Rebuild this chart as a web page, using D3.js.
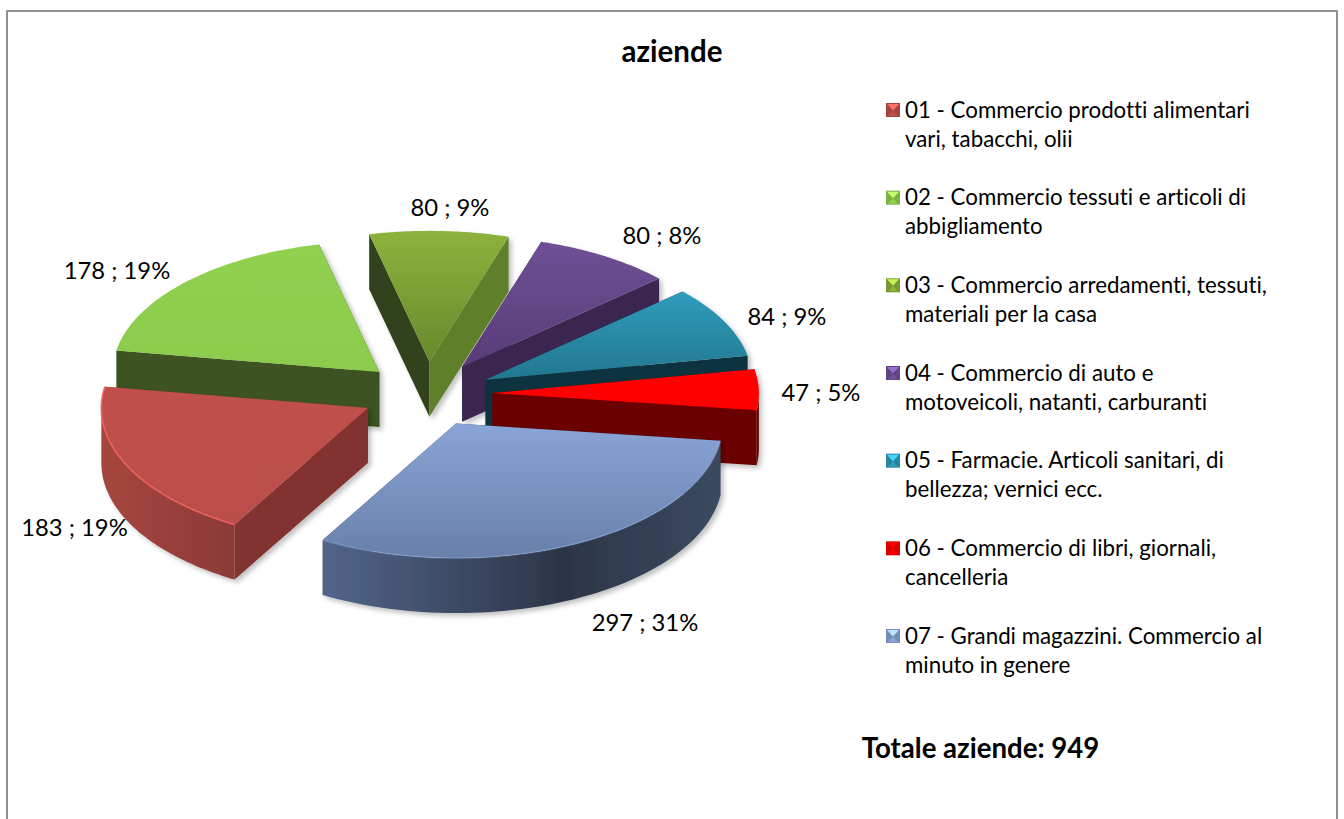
<!DOCTYPE html>
<html><head><meta charset="utf-8">
<script src="https://cdn.jsdelivr.net/npm/d3@7"></script>
<style>html,body{margin:0;padding:0;background:#fff}svg{display:block}text{font-family:Lato,"Open Sans",sans-serif;fill:#000;font-variant-ligatures:none}</style>
</head><body><svg id="c" width="1344" height="819"></svg>
<script>
const titleText = "aziende";
const totalText = "Totale aziende: 949";
const codes = ["01","02","03","04","05","06","07"];
const values = [183,178,80,80,84,47,297];
const dataLabels = ["183 ; 19%","178 ; 19%","80 ; 9%","80 ; 8%","84 ; 9%","47 ; 5%","297 ; 31%"];
const legendLines = [
 ["01 - Commercio prodotti alimentari","vari, tabacchi, olii"],
 ["02 - Commercio tessuti e articoli di","abbigliamento"],
 ["03 - Commercio arredamenti, tessuti,","materiali per la casa"],
 ["04 - Commercio di auto e","motoveicoli, natanti, carburanti"],
 ["05 - Farmacie. Articoli sanitari, di","bellezza; vernici ecc."],
 ["06 - Commercio di libri, giornali,","cancelleria"],
 ["07 - Grandi magazzini. Commercio al","minuto in genere"]];
const topColors = [["#c0504d","#bb4e4a"],["#92d050","#8ccb4c"],["#8db23d","#68892c"],["#6f5096","#583c78"],["#2f9cbc","#237790"],["#ff0000","#ff0000"],["#89a4d6","#6880aa"]];
const startWallColors = ["#833332","#3c5220","#33431a","#3a2850","#10333f","#6b0000","#2e384c"];
const endWallColors = ["#833332","#3c5220","#5f7f2c","#3a2850","#10333f","#6b0000","#2e384c"];
const curveStops = [["#a6463f","#8c3a38"],["#3c5220","#3c5220"],["#000","#000"],["#000","#000"],["#000","#000"],["#6b0000","#6b0000"],["#2f3a4f","#50637f"]];
const rimOpacity = [0.9,0,0,0,0,0,0.3];
const drawOrder = [2,3,4,5,1,0,6];
const labelPos = [[74.5,536],[117,279],[450,216],[662,244],[787,325],[821,401],[645,631]];

const svg = d3.select("#c");
const cx=427, cy=394, rx=266.5, ryBack=131, ryFront=134.5, depth=55, explode=0.2455;
const start = 210*Math.PI/180;
const arcs = d3.pie().sort(null).startAngle(start).endAngle(start+2*Math.PI)(values);
const px = d3.scaleLinear().domain([-1,1]).range([-rx,rx]);
const py = d3.scaleLinear().domain([-1,0,1]).range([-ryBack,0,ryFront]);
const unit = a=>[px(Math.sin(a)),py(-Math.cos(a))];

const defs = svg.append("defs");
const f = defs.append("filter").attr("id","sh").attr("x","-10%").attr("y","-10%").attr("width","125%").attr("height","125%");
f.append("feDropShadow").attr("dx",3).attr("dy",3).attr("stdDeviation",2.5).attr("flood-color","#000").attr("flood-opacity",0.25);
const lb = defs.append("filter").attr("id","bl");
lb.append("feGaussianBlur").attr("stdDeviation",0.6);
function lin(id,x1,y1,x2,y2,stops){
  const g=defs.append("linearGradient").attr("id",id).attr("gradientUnits","userSpaceOnUse")
    .attr("x1",x1).attr("y1",y1).attr("x2",x2).attr("y2",y2);
  stops.forEach((c,k)=>g.append("stop").attr("offset",Array.isArray(c)?c[0]:k/(stops.length-1)).attr("stop-color",Array.isArray(c)?c[1]:c));
  return `url(#${id})`;
}
svg.append("rect").attr("x",7).attr("y",11).attr("width",1330).attr("height",830).attr("fill","#fff").attr("stroke","#8f8f8f").attr("stroke-width",2);

const line = d3.line();
const sample=(a0,a1)=>d3.range(0,61).map(i=>a0+(a1-a0)*i/60);
drawOrder.forEach(i=>{
  const d=arcs[i], mid=(d.startAngle+d.endAngle)/2, m=unit(mid);
  const c=[cx+explode*m[0],cy+explode*m[1]];
  const pt=(a,z=0)=>{const u=unit(a);return [c[0]+u[0],c[1]+u[1]+z];};
  const g=svg.append("g").attr("filter","url(#sh)");
  const wall=(a,fill)=>{const p=pt(a);
    g.append("path").attr("d",line([c,p,[p[0],p[1]+depth],[c[0],c[1]+depth]])+"Z").attr("fill",fill);};
  wall(d.startAngle,startWallColors[i]);
  wall(d.endAngle,endWallColors[i]);
  const twoPi=2*Math.PI;
  for(const k of [0,1]){
    const lo=Math.PI/2+k*twoPi, hi=3*Math.PI/2+k*twoPi;
    const a0=Math.max(d.startAngle,lo), a1=Math.min(d.endAngle,hi);
    if(a1>a0){
      const s=sample(a0,a1);
      const pts=s.map(a=>pt(a)).concat(s.slice().reverse().map(a=>pt(a,depth)));
      const xs=pts.map(p=>p[0]);
      const fill=i===6
        ? lin("cv6",d3.min(xs),0,d3.max(xs),0,[[0,"#52658a"],[0.35,"#3c4a63"],[0.6,"#2c3547"],[1,"#3b4a60"]])
        : lin("cv"+i,d3.min(xs),0,d3.max(xs),0,curveStops[i]);
      g.append("path").attr("d",line(pts)+"Z").attr("fill",fill);
    }
  }
  const s=sample(d.startAngle,d.endAngle);
  const top=[c].concat(s.map(a=>pt(a)));
  const ys=top.map(p=>p[1]);
  g.append("path").attr("d",line(top)+"Z")
    .attr("fill",lin("tp"+i,0,d3.min(ys),0,d3.max(ys),topColors[i]));
  if(rimOpacity[i]>0){
    g.append("path").attr("d",line(s.map(a=>pt(a)))).attr("fill","none")
      .attr("stroke",d3.color(topColors[i][0]).brighter(0.6)).attr("stroke-opacity",rimOpacity[i])
      .attr("stroke-width",1.6).attr("filter","url(#bl)");
  }
});

labelPos.forEach((p,i)=>{
  svg.append("text").attr("x",p[0]).attr("y",p[1]).attr("text-anchor","middle").attr("font-size",23.8).text(dataLabels[i]);
});
svg.append("text").attr("x",672).attr("y",62).attr("text-anchor","middle").attr("font-size",29.5).attr("font-weight",700).text(titleText);
svg.append("text").attr("x",980.5).attr("y",758).attr("text-anchor","middle").attr("font-size",27.6).attr("font-weight",700).text(totalText);

const legendY = d3.scalePoint().domain(codes).range([110,636]);
codes.forEach((k,i)=>{
  const y=legendY(k);
  const col=d3.color(topColors[i][0]), dark=col.darker(0.45), light=col.brighter(0.9);
  const g=svg.append("g").attr("transform",`translate(886,${y-7})`);
  g.append("rect").attr("width",14).attr("height",14).attr("fill",dark);
  g.append("path").attr("d",line([[1,1],[13,1],[7,7.5]])+"Z").attr("fill",light);
  g.append("path").attr("d",line([[2,13],[12,13],[7,7.5]])+"Z").attr("fill",col);
  legendLines[i].forEach((t,j)=>{
    svg.append("text").attr("x",905).attr("y",y+7.5+j*29).attr("font-size",22.3).text(t);
  });
});
</script></body></html>
